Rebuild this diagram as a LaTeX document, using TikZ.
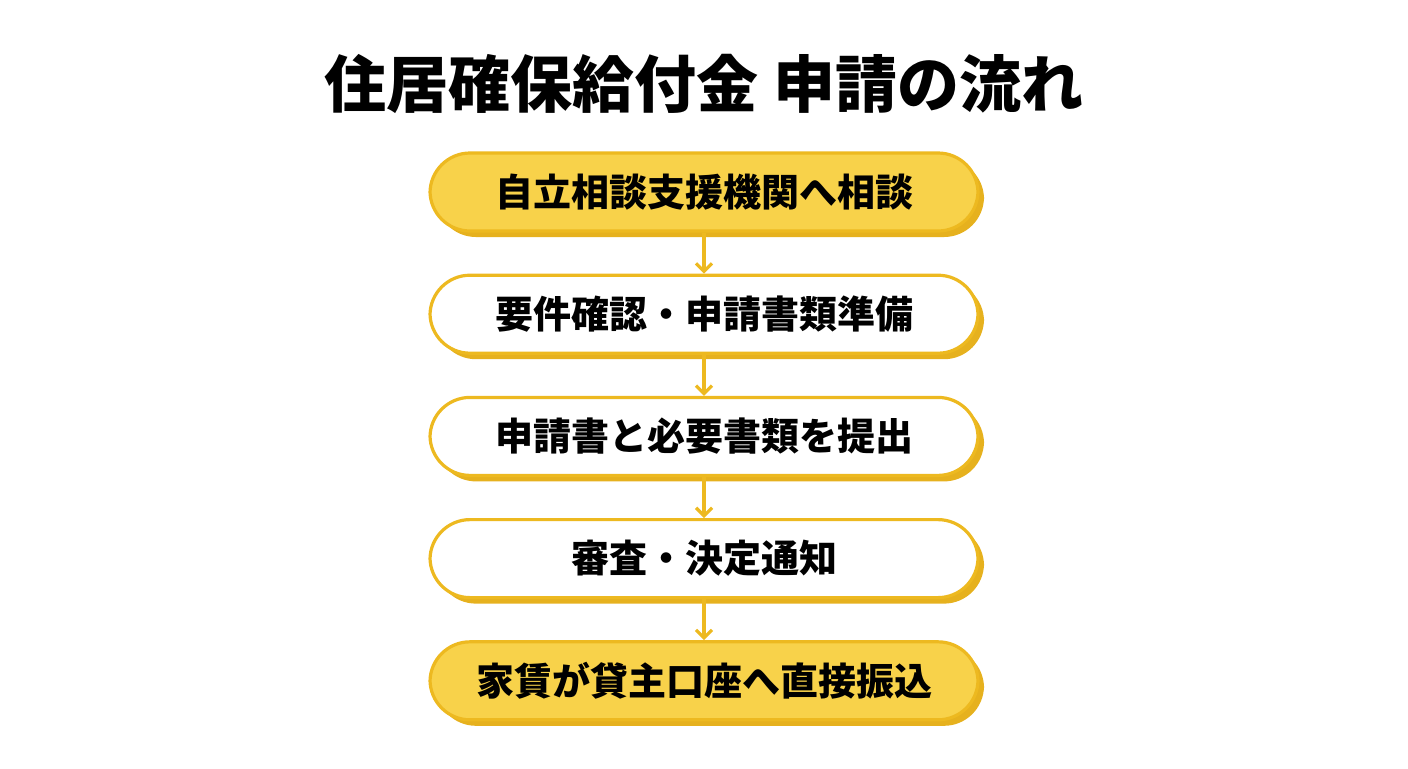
\documentclass[tikz,border=0pt]{standalone}
\usepackage{fontspec}
\setmainfont{Noto Sans CJK JP}
\usetikzlibrary{positioning,shadows,arrows.meta}
\definecolor{stepyellow}{HTML}{F8D24A}
\definecolor{edgeyellow}{HTML}{EDB920}
\definecolor{shadeyellow}{HTML}{E6B11E}
\tikzset{
    flowbox/.style={rounded corners=20pt, draw=edgeyellow, line width=1.6pt,
        minimum width=274pt, minimum height=39pt, font=\bfseries\fontsize{19}{22}\selectfont,
        drop shadow={fill=shadeyellow, opacity=1, shadow xshift=3pt, shadow yshift=-3pt}},
    keybox/.style={flowbox, fill=stepyellow},
    plainbox/.style={flowbox, fill=white},
    flowarrow/.style={draw=edgeyellow, line width=1.6pt, -{Straight Barb[length=4pt,width=8pt]}},
}
\begin{document}
\begin{tikzpicture}[node distance=20.5pt]
\useasboundingbox (0,0) rectangle (704pt,-384pt);
\node (title) at (352pt,-42pt) {\bfseries\fontsize{31}{34}\selectfont 住居確保給付金 申請の流れ};
\node [keybox] (consult) at (352pt,-96pt) {自立相談支援機関へ相談};
\node [plainbox, below=of consult] (prepare) {要件確認・申請書類準備};
\node [plainbox, below=of prepare] (submit) {申請書と必要書類を提出};
\node [plainbox, below=of submit] (review) {審査・決定通知};
\node [keybox, below=of review] (payment) {家賃が貸主口座へ直接振込};
\foreach \a/\b in {consult/prepare, prepare/submit, submit/review, review/payment}
    \draw [flowarrow] (\a) -- (\b);
\end{tikzpicture}
\end{document}
